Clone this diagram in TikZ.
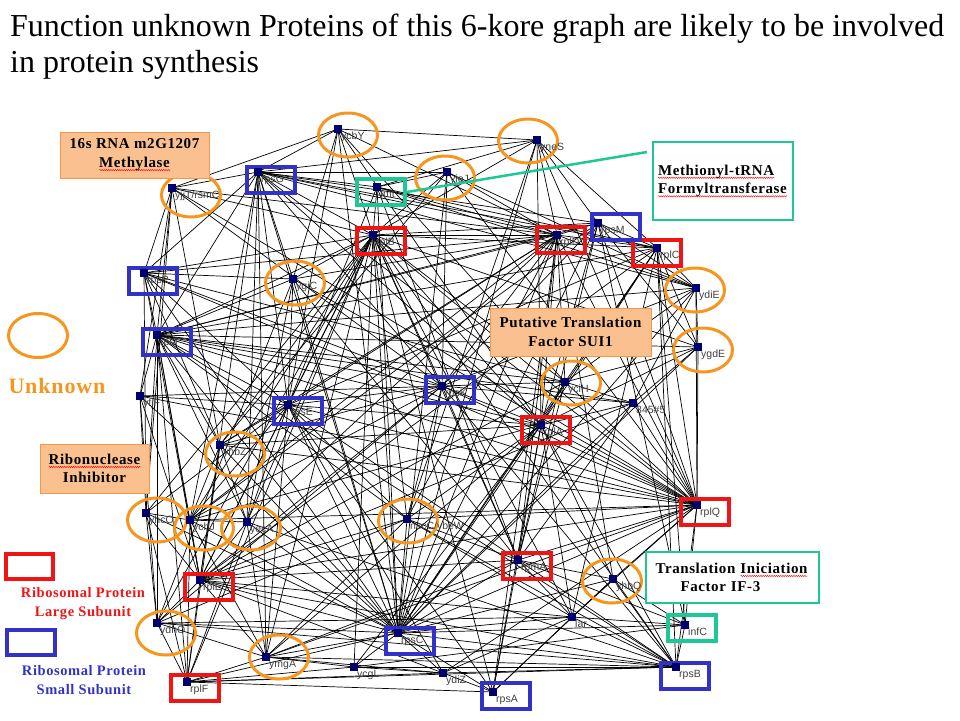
\documentclass[tikz,border=0pt]{standalone}
\usepackage{fontspec}
\setmainfont{Liberation Serif}
\newfontfamily\arialf{Liberation Sans}
\newfontfamily\notef[LetterSpace=4]{Liberation Serif}
\usetikzlibrary{shapes.geometric,backgrounds,decorations.pathmorphing}
\definecolor{unkor}{RGB}{247,150,30}
\definecolor{lsured}{RGB}{240,20,20}
\definecolor{ssublue}{RGB}{50,50,200}
\definecolor{tfgreen}{RGB}{30,200,150}
\definecolor{peach}{RGB}{250,192,144}
\definecolor{peachline}{RGB}{247,150,70}
\definecolor{mknavy}{RGB}{0,0,110}
% red spelling squiggle under a word
\newlength\sqlen
\newcommand\sqw[1]{\leavevmode\settowidth\sqlen{#1}\rlap{\raisebox{-3.5pt}{\tikz\draw[red, line width=0.4pt,
   decorate, decoration={zigzag, amplitude=0.7pt, segment length=2.2pt}] (0pt,0pt) -- (\sqlen,0pt);}}#1}
\tikzset{%
   mk/.style={fill=mknavy, inner sep=0pt, minimum size=8pt},
   lbl/.style={font=\arialf\fontsize{10.5}{11}\selectfont, text=black!75, inner sep=0pt, anchor=north west},
   unk/.style={ellipse, draw=unkor, line width=3pt, minimum width=59pt, minimum height=44pt},
   lsu/.style={rectangle, draw=lsured, line width=4pt, minimum width=48pt, minimum height=26pt},
   ssu/.style={lsu, draw=ssublue},
   tfac/.style={lsu, draw=tfgreen},
   edge/.style={black, line width=0.7pt},
   note/.style={draw=peachline, fill=peach, line width=0.8pt, inner sep=0pt,
     font=\notef\bfseries\fontsize{15}{18.5}\selectfont, align=center},
   tnote/.style={note, draw=tfgreen, fill=white, line width=2.5pt},
   key/.style={font=\notef\bfseries\fontsize{14.5}{19}\selectfont, align=center},
}
\begin{document}
\begin{tikzpicture}[x=1pt, y=-1pt]
      \useasboundingbox (0,0) rectangle (960,720);
      \node[anchor=base west, inner sep=0pt, font=\fontsize{32}{36}\selectfont] (title1) at (10,36)
         {Function unknown Proteins of this 6-kore graph are likely to be involved};
      \node[anchor=base west, inner sep=0pt, font=\fontsize{32}{36}\selectfont] (title2) at (10,72)
         {in protein synthesis};
      % outlines
      \foreach \n/\x/\y in {ycbY/348/135, yneS/528/141, yieJ/445/178, yjjT/191/195, ygiC/295/283,
         ydiE/695/290, ygdE/703/350, yciH/571/383, yhbZ/235/454, yhcO/157/520, ychJ/204/528,
         yecA/251/528, nscC/408/521, yhbQ/612/581, ydhO/166/633, ymgA/279/657}
         \node[unk] (\n-o) at (\x,\y) {};
      \foreach \n/\x/\y in {rplB/381/241, rplD/561/240, rplC/657/253, rplA/546/430, rplQ/705/512,
         rplE/209/587, rpmA/527/566, rplF/195/688}
         \node[lsu] (\n-o) at (\x,\y) {};
      \foreach \n/\x/\y in {rpsG/271/180, rpsM/616/227, rpsP/153/281, rpsI/167/342, rpsE/298/411,
         rpsK/450/390, rpsC/410/641, rpsB/685/676, rpsA/506/696}
         \node[ssu] (\n-o) at (\x,\y) {};
      \foreach \n/\x/\y in {fmt/381/192, infC/692/628}
         \node[tfac] (\n-o) at (\x,\y) {};
      % proteins
      \foreach \n/\x/\y/\t in {ycbY/338/129/ycbY, yneS/537/140/yneS, yieJ/447/172/yieJ,
         fmt/377/187/fmt, rpsG/258/172/rpsG, yjjT/172/188/{yjjT/rsmC}, rplB/373/235/rplB,
         rplD/557/235/rplD, rpsM/598/223/rpsM, rplC/657/248/rplC, ydiE/696/288/ydiE,
         rpsP/144/273/rpsP, ygiC/293/279/ygiC, rpsI/157/335/rpsI, yfjF/140/396/yfjF,
         rpsE/288/405/rpsE, rpsK/442/386/rpsK, yhbZ/220/445/yhbZ, ygdE/698/347/ygdE,
         yciH/565/382/yciH, n345/633/403/345\#5, rplA/541/425/rplA, rplQ/697/505/rplQ,
         yhcO/146/513/yhcO, ychJ/190/520/ychJ, yecA/247/522/yecA, nscC/407/519/{nscC/ybeW},
         rplE/200/580/rplE, rpmA/518/560/rpmA, yhbQ/613/579/yhbQ, ydhO/157/623/ydhO,
         rpsC/398/633/rpsC, lar/572/617/lar, infC/685/625/infC, ymgA/266/657/ymgA,
         ycgL/354/667/ycgL, ydiZ/443/673/ydiZ, rplF/187/682/rplF, rpsA/493/692/rpsA,
         rpsB/676/667/rpsB}
      {
         \node[mk] (\n) at (\x,\y) {};
         \node[lbl] (\n-l) at ([shift={(3pt,-3pt)}]\n.center) {\t};
      }
      % notes
      \node[note, minimum width=149pt, minimum height=46pt] (methyl) at (134.5,155)
         {16s RNA m2G1207\\\sqw{Methylase}};
      \node[note, minimum width=161pt, minimum height=48pt] (sui) at (570.5,332)
         {Putative Translation\\Factor SUI1};
      \node[note, minimum width=109pt, minimum height=49pt] (rinh) at (94.5,468.5)
         {\sqw{Ribonuclease}\\Inhibitor};
      \node[tnote, minimum width=140pt, minimum height=78pt, align=left, text width=130pt] (fmtnote) at (723,181)
         {\sqw{Methionyl-tRNA}\\\sqw{Formyltransferase}};
      \node[tnote, minimum width=173pt, minimum height=51pt, align=left, text width=154pt] (ifnote) at (732.5,577.5)
         {Translation \sqw{Iniciation}\\\hspace*{25pt}Factor IF-3};
      \coordinate (fmtend) at (647,152);
      \draw[tfgreen, line width=2.5pt] (fmt-o.east) -- (fmtend);
      % legend
      \node[unk] (unkkey) at (38,335.5) {};
      \node[font=\notef\bfseries\fontsize{22}{24}\selectfont, text=unkor] (unktxt) at (57,386) {Unknown};
      \node[lsu, minimum width=47pt, minimum height=25pt] (lsukey) at (29.5,566.5) {};
      \node[key, text=lsured] (lsutxt) at (83,603.5) {Ribosomal Protein\\Large Subunit};
      \node[ssu, minimum width=48pt, minimum height=25pt] (ssukey) at (31,642.5) {};
      \node[key, text=ssublue] (ssutxt) at (84,680) {Ribosomal Protein\\Small Subunit};
      % interactions
      \begin{pgfonlayer}{background}
      \foreach \a/\b in {ycbY/yneS, ycbY/rpsG, ycbY/yjjT, ycbY/rplB, ycbY/rplD, ycbY/rpsE, ycbY/ygiC,
         ycbY/rpsC, ycbY/rplA, ycbY/yciH,
         yneS/rpsG, yneS/fmt, yneS/rplB, yneS/rplD, yneS/rpsM, yneS/rplC, yneS/rpsC, yneS/rplA,
         yneS/rplQ, yneS/nscC,
         yieJ/fmt, yieJ/rpsG, yieJ/rplB, yieJ/rplD, yieJ/rpsC, yieJ/rpsK, yieJ/yhbZ, yieJ/rplQ, yieJ/ydiE,
         fmt/rpsG, fmt/rplB, fmt/rplD, fmt/rplC, fmt/rpsC, fmt/rpsE, fmt/ydiE, fmt/rpmA,
         rpsG/yjjT, rpsG/rplB, rpsG/rplD, rpsG/rpsM, rpsG/rplC, rpsG/ydiE, rpsG/rpsP, rpsG/rpsI,
         rpsG/rpsE, rpsG/ygiC, rpsG/rpsK, rpsG/ychJ, rpsG/yecA, rpsG/rpsC, rpsG/rplE, rpsG/rplA,
         rpsG/rplQ, rpsG/ymgA,
         yjjT/rplB, yjjT/rpsP, yjjT/rpsI, yjjT/yfjF, yjjT/yhcO, yjjT/rplD, yjjT/rpsK, yjjT/rplQ, yjjT/yhbZ,
         rplB/rplD, rplB/rpsM, rplB/rplC, rplB/ygdE, rplB/rpsP, rplB/rpsI, rplB/ygiC, rplB/rpsE,
         rplB/rpsK, rplB/yhbZ, rplB/yhcO, rplB/ychJ, rplB/yecA, rplB/rplE, rplB/ydhO, rplB/rplF,
         rplB/ymgA, rplB/rpsC, rplB/nscC, rplB/rpmA, rplB/rplA, rplB/rplQ, rplB/rpsA, rplB/ycgL,
         rplB/lar, rplB/rpsB, rplB/yciH,
         rplD/rpsM, rplD/rplC, rplD/ydiE, rplD/rpsP, rplD/rpsI, rplD/ygiC, rplD/rpsE, rplD/rpsK,
         rplD/yhbZ, rplD/rplA, rplD/yciH, rplD/rplQ, rplD/rpsC, rplD/rpmA, rplD/yhbQ, rplD/rpsA,
         rplD/nscC, rplD/ychJ, rplD/yecA,
         rpsM/rplC, rpsM/ydiE, rpsM/ygdE, rpsM/rpsI, rpsM/rpsK, rpsM/rplA, rpsM/rpsC, rpsM/rplQ,
         rpsM/rpmA, rpsM/ychJ, rpsM/infC,
         rplC/ydiE, rplC/ygdE, rplC/rpsI, rplC/rpsE, rplC/rplA, rplC/yciH, rplC/rplQ, rplC/rpsC,
         rplC/rplE, rplC/infC, rplC/rpsB, rplC/lar,
         ydiE/ygdE, ydiE/rplQ, ydiE/rpsK, ydiE/rpsI, ydiE/yciH, ydiE/rpsC, ydiE/n345,
         rpsP/ygiC, rpsP/rpsI, rpsP/rpsE, rpsP/yhbZ, rpsP/rplQ, rpsP/rpsK, rpsP/yhcO, rpsP/rplE,
         rpsP/rpsC, rpsP/yciH,
         ygiC/rpsI, ygiC/rpsE, ygiC/rpsC, ygiC/rplQ, ygiC/yecA, ygiC/rpmA, ygiC/ydhO,
         rpsI/yfjF, rpsI/rpsE, rpsI/rpsK, rpsI/yciH, rpsI/n345, rpsI/rplA, rpsI/rplQ, rpsI/yhbZ,
         rpsI/yhcO, rpsI/ychJ, rpsI/yecA, rpsI/rplE, rpsI/ydhO, rpsI/rplF, rpsI/rpsC, rpsI/nscC,
         rpsI/rpsB, rpsI/ygdE,
         yfjF/rpsE, yfjF/rpsK, yfjF/yhcO, yfjF/ydhO, yfjF/rplQ, yfjF/rplE, yfjF/rpsC,
         rpsE/rpsK, rpsE/yhbZ, rpsE/yhcO, rpsE/ychJ, rpsE/yecA, rpsE/rplE, rpsE/rpsC, rpsE/rplQ,
         rpsE/rplA, rpsE/nscC, rpsE/ymgA, rpsE/rpmA, rpsE/rpsA, rpsE/ydiZ,
         rpsK/yciH, rpsK/n345, rpsK/rplA, rpsK/rplQ, rpsK/nscC, rpsK/rpsC, rpsK/rpmA, rpsK/ychJ,
         rpsK/yhbZ, rpsK/rplE, rpsK/rpsB, rpsK/ydhO,
         yhbZ/yecA, yhbZ/rplQ, yhbZ/rplA, yhbZ/ychJ, yhbZ/rpsC, yhbZ/rplE, yhbZ/rplF,
         ygdE/yciH, ygdE/n345, ygdE/rplQ, ygdE/rplA, ygdE/rpsC,
         yciH/n345, yciH/rplA, yciH/rplQ, yciH/rpsC, yciH/rplE, yciH/rpmA,
         n345/rplA, n345/rplQ, n345/rpsC, n345/rpmA, n345/rplE,
         rplA/rplQ, rplA/rpmA, rplA/rpsC, rplA/nscC, rplA/yhbQ, rplA/lar, rplA/rpsB, rplA/rpsA,
         rplA/ymgA, rplA/ychJ, rplA/ycgL,
         rplQ/infC, rplQ/rpsB, rplQ/rpmA, rplQ/lar, rplQ/yhbQ, rplQ/rpsC, rplQ/nscC, rplQ/rplE,
         rplQ/ychJ, rplQ/ydiZ, rplQ/ymgA,
         yhcO/ychJ, yhcO/rplE, yhcO/ydhO, yhcO/rplF, yhcO/rpsC,
         ychJ/yecA, ychJ/rplE, ychJ/rplF, ychJ/rpsC, ychJ/ymgA,
         yecA/rplE, yecA/rpsC, yecA/rplF, yecA/ymgA, yecA/rpsB,
         nscC/rpsC, nscC/rpmA, nscC/lar, nscC/rpsB, nscC/rplE, nscC/ydhO, nscC/ymgA,
         rplE/ydhO, rplE/rplF, rplE/ymgA, rplE/rpsC, rplE/rpmA, rplE/rpsB, rplE/lar, rplE/ydiZ,
         rpmA/yhbQ, rpmA/lar, rpmA/rpsB, rpmA/rpsC, rpmA/infC, rpmA/ymgA, rpmA/rpsA,
         yhbQ/lar, yhbQ/rpsB, yhbQ/rpsA, yhbQ/rpsC, yhbQ/infC,
         ydhO/rplF, ydhO/ymgA, ydhO/rpsC, ydhO/rpsB, ydhO/lar,
         rpsC/lar, rpsC/rpsB, rpsC/rpsA, rpsC/ycgL, rpsC/ydiZ, rpsC/ymgA, rpsC/rplF, rpsC/infC,
         lar/rpsB, lar/infC, lar/rpsA, lar/ydiZ,
         infC/rpsB, infC/ycgL,
         ymgA/rplF, ymgA/ycgL, ymgA/rpsB, ymgA/ydiZ,
         ycgL/ydiZ, ycgL/rpsB, ycgL/rplF,
         ydiZ/rpsA, ydiZ/rpsB, ydiZ/rplF,
         rplF/rpsB, rplF/rpsA}
         \draw[edge] (\a.center) -- (\b.center);
      \end{pgfonlayer}
\end{tikzpicture}
\end{document}
